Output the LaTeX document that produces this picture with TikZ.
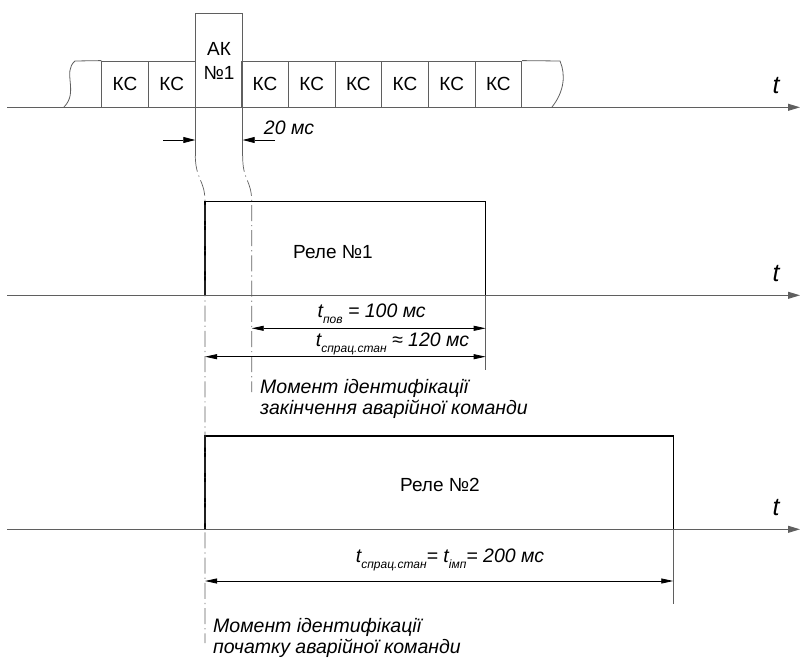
\documentclass[tikz,border=0pt]{standalone}
\usepackage{fontspec}
\setmainfont{Liberation Sans}
\usepackage{tikz}
\usetikzlibrary{arrows.meta, positioning, calc}

\definecolor{linegray}{RGB}{95,95,95}
\newcommand{\tsub}[1]{\textit{t}\raisebox{-6pt}{\fontsize{12}{12}\selectfont\textit{#1}}}

\begin{document}
\begin{tikzpicture}[
  x=1pt, y=-1pt,
  font=\fontsize{19}{24}\selectfont,
  cell/.style    = {draw=linegray, line width=0.8pt, minimum width=46.67pt,
                    minimum height=46pt, inner sep=0pt},
  axis/.style    = {draw=linegray, line width=0.9pt,
                    -{Triangle[length=12pt,width=7pt]}},
  pulse/.style   = {draw=black, line width=1.4pt},
  thinline/.style= {draw=linegray, line width=0.8pt},
  pointer/.style = {draw=black, line width=0.8pt,
                    -{Triangle[length=12pt,width=6pt]}},
  dimarr/.style  = {draw=black, line width=0.8pt,
                    {Triangle[length=12pt,width=5pt]}-{Triangle[length=12pt,width=5pt]}},
  marker/.style  = {draw=linegray, line width=0.7pt,
                    dash pattern=on 16pt off 4pt on 1.2pt off 4pt},
  note/.style    = {font=\fontsize{19.5}{21.5}\selectfont\itshape,
                    align=left, inner sep=0pt, anchor=north west},
  tlab/.style    = {font=\fontsize{25}{25}\selectfont\itshape},
  dimlab/.style  = {font=\fontsize{19.5}{22}\selectfont\itshape, anchor=base},
]
\useasboundingbox (0,0) rectangle (801,659);

%% Time axes
\coordinate (ax1s) at (7,107.3);  \coordinate (ax1e) at (800,107.3);
\coordinate (ax2s) at (7,295.3);  \coordinate (ax2e) at (800,295.3);
\coordinate (ax3s) at (7,529.3);  \coordinate (ax3e) at (800,529.3);
\draw[axis] (ax1s) -- (ax1e);
\draw[axis] (ax2s) -- (ax2e);
\draw[axis] (ax3s) -- (ax3e);
\node[tlab] (t1) at (776,85.6) {t};
\node[tlab] (t2) at (776,274) {t};
\node[tlab] (t3) at (776,507.6) {t};

%% Frame of control messages
\foreach \i in {1,2,4,5,6,7,8,9}
  \node[cell] (ks\i) at ({101.67+46.67*(\i-0.5)},84) {КС};
\node[cell, minimum height=93.7pt, align=center] (ak) at (219,60.6) {АК\\№1};
\draw[thinline] (ks1.north west) -- (75,61)
  .. controls (62,72) and (79,92) .. (64,107);
\draw[thinline] (ks9.north east) -- (560,61)
  .. controls (566,75) and (564,92) .. (552,107);
\draw[thinline] (ak.south west) -- ++(0,48) coordinate (akL);
\draw[thinline] (ak.south east) -- ++(0,48) coordinate (akR);

%% 20 ms
\coordinate (d20) at (0,140);
\draw[pointer] (163,140) -- (akL |- d20);
\draw[pointer] (275,140) -- (akR |- d20);
\node[dimlab] (d20lab) at (289,134) {20 мс};

%% Relay 1
\coordinate (r1a) at (205,295.3);
\coordinate (r1b) at (485.7,295.3);
\draw[pulse] (r1a) |- (485.7,201.7) -- (r1b);
\draw[thinline] (r1b) -- (485.7,370);
\node (rel1) at (333,252) {Реле №1};

%% Relay 2
\coordinate (r2a) at (205,529.3);
\coordinate (r2b) at (673.3,529.3);
\draw[pulse] (r2a) |- (673.3,436) -- (r2b);
\draw[thinline] (r2b) -- (673.3,604);
\node (rel2) at (440,485) {Реле №2};

%% Identification moments
\draw[marker] (akL) .. controls (195.7,180) and (205,180) .. (205,201.7) -- (205,643);
\draw[marker] (akR) .. controls (242.3,180) and (251.7,180) .. (251.7,201.7) -- (251.7,392);

%% Durations
\draw[dimarr] (251.7,328.3) -- (485.7,328.3);
\node[dimlab] (tpov) at (371.7,317.3) {\tsub{пов} = 100 мс};
\draw[dimarr] (205,356.7) -- (485.7,356.7);
\node[dimlab] (tsr1) at (392.5,346.7) {\tsub{спрац.стан} ≈ 120 мс};
\draw[dimarr] (205,581) -- (673.3,581);
\node[dimlab] (tsr2) at (450,562) {\tsub{спрац.стан}= \tsub{імп}= 200 мс};

%% Notes
\node[note] (endnote) at (260,379)
     {Момент ідентифікації\\закінчення аварійної команди};
\node[note] (startnote) at (213,618)
     {Момент ідентифікації\\початку аварійної команди};

\end{tikzpicture}
\end{document}
